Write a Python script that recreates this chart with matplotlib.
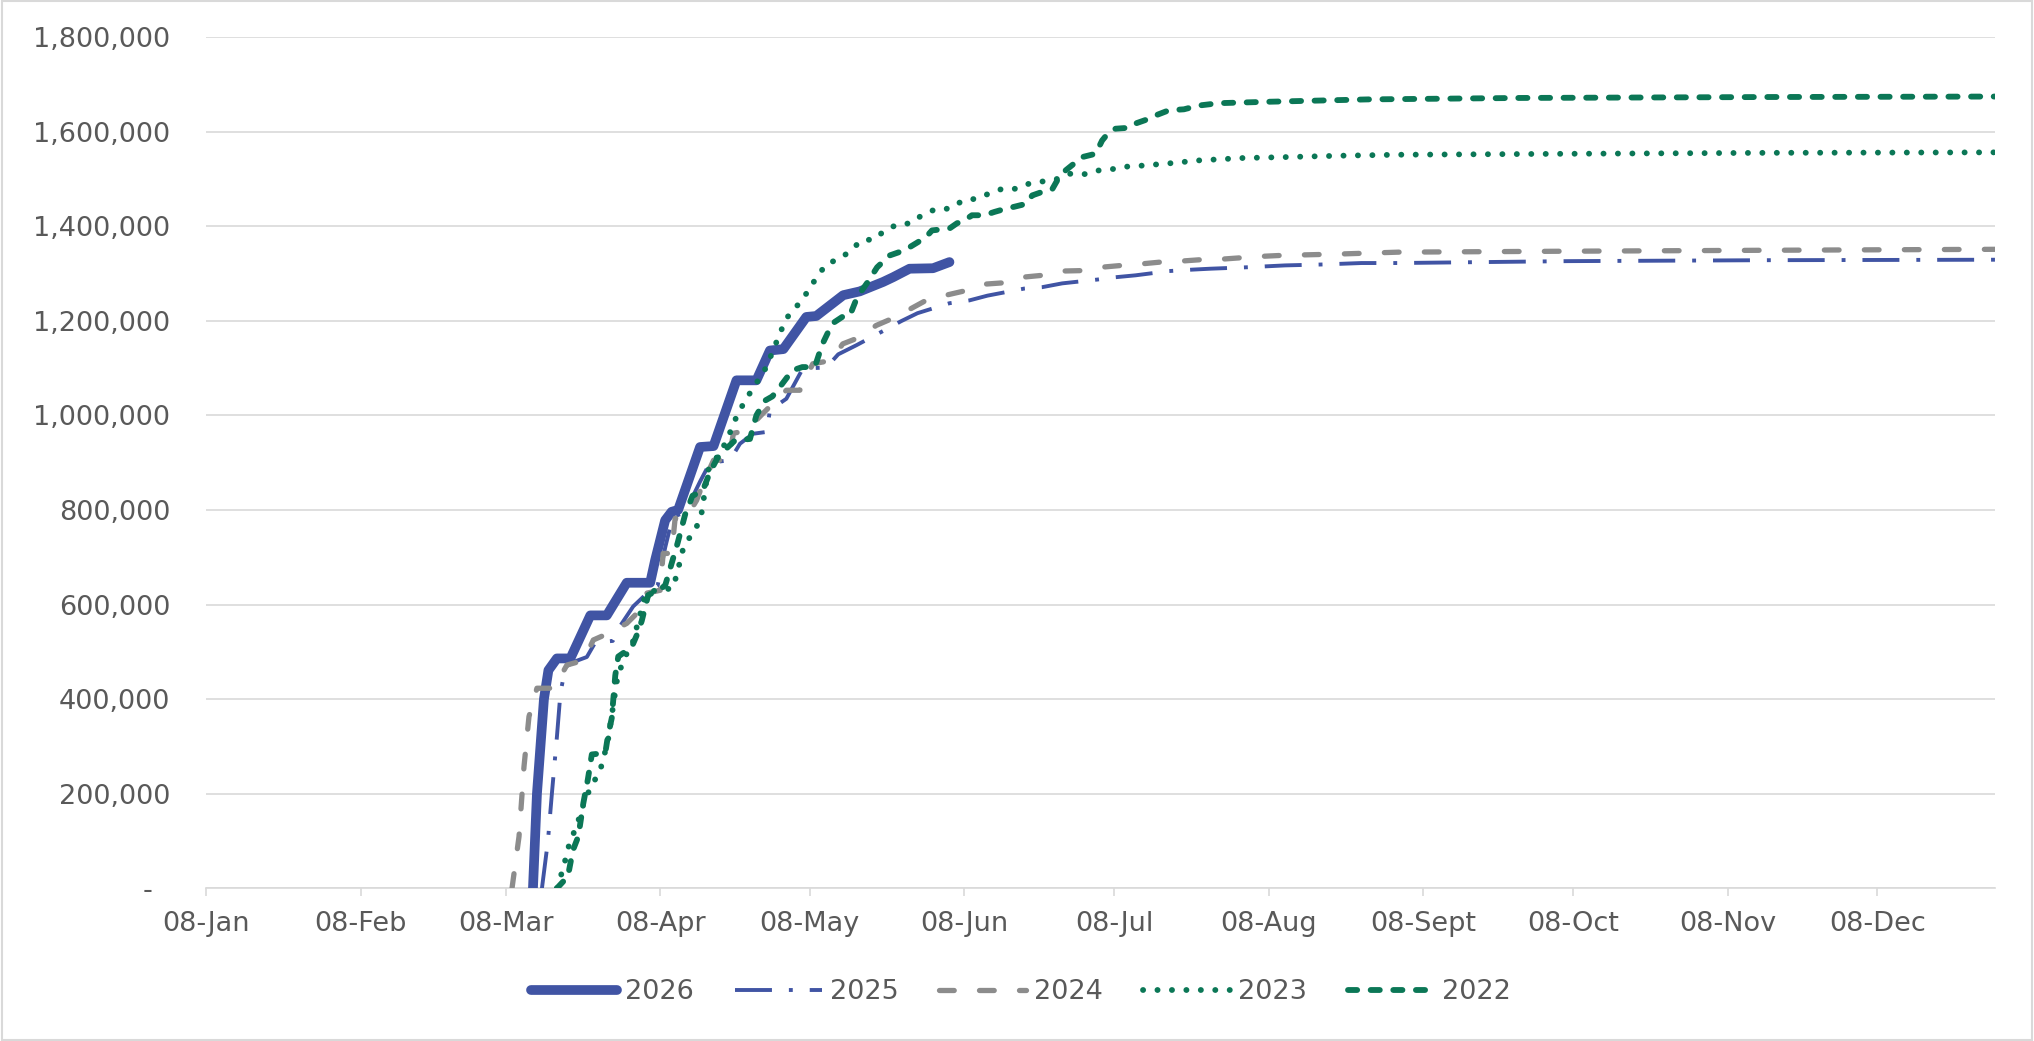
import matplotlib
matplotlib.use("Agg")
import matplotlib.pyplot as plt
from matplotlib.ticker import FuncFormatter, FixedLocator
from matplotlib.patches import Rectangle
import datetime as dt

plt.rcParams['font.family'] = ['DejaVu Sans']
plt.rcParams['lines.scale_dashes'] = False

# x = days since 1 Jan (leap-year calendar axis), values in thousands
days_2026 = [72.5, 73.3, 74.7, 75.6, 77.3, 80, 84, 87.3, 91.3, 96, 97, 99, 100.3, 101.6, 106, 108.7,
             113.3, 117.3, 120, 122.7, 127.3, 129.3, 134.7, 138, 142.7, 144.7, 148, 152.7, 156]
vals_2026 = [0, 200, 400, 461, 486, 486, 577, 577, 646, 646, 694, 778, 796, 800, 933, 935,
             1074, 1074, 1137, 1140, 1208, 1210, 1254, 1262, 1282, 1292, 1310, 1311, 1324]

days_2025 = [74.3, 75.5, 76.3, 77.3, 78, 79, 81, 83.3, 85, 88.5, 90, 92.6, 96, 97.5, 99, 100.5, 103,
             106, 108, 112, 114, 116.6, 119.4, 120, 123.3, 126.6, 131.3, 133.7, 137.3, 143, 146.3,
             149.6, 156, 160, 163.6, 171, 174.6, 178.6, 185.6, 189.3, 193.3, 200, 204.6, 208.3,
             215.6, 223.3, 231, 238.6, 246, 280, 320, 365.6]
vals_2025 = [0, 100, 201, 320, 412, 468, 480, 489, 520, 523, 555, 596, 630, 640, 720, 785, 795,
             860, 900, 905, 940, 961, 965, 1011, 1035, 1099, 1101, 1129, 1148, 1180, 1199,
             1216, 1237, 1243, 1253, 1268, 1271, 1279, 1287, 1292, 1296, 1305, 1308, 1310,
             1313, 1317, 1319, 1322, 1322, 1326, 1328, 1329]

days_2024 = [68.3, 69.7, 70.7, 71.7, 73.3, 76.7, 79.3, 82.7, 84.6, 87.6, 91.3, 93.3, 95.3, 98, 98.6,
             100.3, 101, 103.3, 105.3, 106.6, 108.7, 111.7, 112.7, 115.3, 118.6, 120.6, 123.3, 126,
             128.6, 132.3, 134.6, 138, 141.3, 144.6, 148, 151.3, 155.3, 159, 162.6, 166.6, 170.6,
             174.6, 178.3, 182.6, 186.3, 190.6, 194.3, 198.3, 202.3, 206.3, 210.3, 214.3, 218.3,
             222.3, 234, 246, 280, 320, 365.6]
vals_2024 = [0, 109, 257, 363, 423, 423, 472, 482, 525, 539, 560, 581, 624, 630, 708,
             708, 782, 785, 820, 856, 905, 905, 962, 968, 1004, 1025, 1053, 1053,
             1109, 1116, 1151, 1165, 1190, 1205, 1224, 1243, 1254, 1263, 1277, 1280, 1292,
             1296, 1305, 1306, 1313, 1317, 1320, 1324, 1326, 1329, 1330, 1333, 1336,
             1338, 1341, 1345, 1347, 1349, 1351]

days_2023 = [77.3, 78.5, 79.7, 81.5, 83, 84.7, 86, 87.5, 88.5, 89.5, 91, 92.5, 94, 95, 97, 100.5,
             101.3, 102.7, 105.3, 106.3, 107.6, 109, 111.3, 113, 115, 116.5, 119.3, 122, 123.3,
             126.7, 128, 129.7, 131.3, 134, 136.3, 138.3, 141, 143, 145.7, 148.3, 150.7, 153.3,
             156, 158.7, 161.3, 164, 166.6, 169.3, 172, 175, 177.7, 180.3, 183.3, 186, 189,
             191.7, 194.7, 200.3, 206, 214.7, 223.3, 234.7, 246, 280, 320, 365.6]
vals_2023 = [0, 40, 90, 140, 190, 225, 250, 310, 380, 450, 490, 520, 580, 620, 630, 634,
             662, 722, 764, 793, 884, 905, 945, 990, 1031, 1055, 1102, 1173, 1205,
             1247, 1270, 1296, 1320, 1331, 1349, 1370, 1372, 1391, 1404, 1406, 1425, 1436,
             1437, 1454, 1458, 1469, 1479, 1479, 1490, 1495, 1500, 1511, 1510, 1518, 1521,
             1526, 1528, 1533, 1539, 1544, 1546, 1549, 1551, 1553, 1555, 1556]

days_2022 = [77.3, 79.5, 80.5, 81.6, 82.6, 83.5, 84.3, 87, 87.5, 88.3, 89, 89.6, 92.3, 93.3, 94.3,
             95.6, 97.6, 99, 101.5, 103, 104.5, 106.5, 108, 109.5, 111.3, 113, 116, 117.3, 119,
             120.5, 122, 124.5, 126.5, 129, 130.5, 132.5, 134.5, 136, 137.5, 139.5, 141.5, 144,
             147, 149.5, 151.3, 152.5, 156, 157.5, 159, 160.5, 163, 165, 167.3, 169, 171.3,
             172.6, 175.3, 176.6, 178, 179.3, 181.3, 182.6, 185.3, 186.6, 188, 189.3, 192,
             193.3, 196, 197.3, 200, 203, 206, 210, 220, 240, 270, 320, 365.6]
vals_2022 = [0, 25, 80, 110, 180, 230, 283, 286, 320, 360, 450, 490, 510, 535, 565,
             620, 630, 640, 730, 790, 830, 840, 880, 910, 930, 947, 950, 1000, 1031,
             1040, 1060, 1095, 1102, 1102, 1150, 1194, 1208, 1210, 1250, 1280, 1313, 1338,
             1349, 1365, 1377, 1391, 1395, 1406, 1412, 1423, 1423, 1430, 1437, 1441, 1447,
             1465, 1475, 1478, 1504, 1518, 1535, 1546, 1553, 1581, 1599, 1606, 1608,
             1617, 1627, 1634, 1645, 1647, 1655, 1660, 1663, 1668, 1671, 1673, 1674]

series_labels = ['2026', '2025', '2024', '2023', '2022']
month_labels = ['08-Jan', '08-Feb', '08-Mar', '08-Apr', '08-May', '08-Jun',
                '08-Jul', '08-Aug', '08-Sept', '08-Oct', '08-Nov', '08-Dec']
y_ticks = [0, 200000, 400000, 600000, 800000, 1000000, 1200000, 1400000, 1600000, 1800000]

BLUE = '#4054A4'
GREY = '#8C8C8C'
GREEN = '#0B7756'
TXT = '#595959'
GRID = '#D9D9D9'

fig = plt.figure(figsize=(20.34, 10.41), dpi=100)
ax = fig.add_axes([0.1014, 0.1467, 0.9808 - 0.1014, 0.9645 - 0.1467])

def k(v):
    return [x * 1000 for x in v]

l26, = ax.plot(days_2026, k(vals_2026), color=BLUE, lw=7.0, solid_capstyle='round',
               solid_joinstyle='round', label=series_labels[0], zorder=3)
l25, = ax.plot(days_2025, k(vals_2025), color=BLUE, lw=2.8, label=series_labels[1], zorder=4,
               dash_capstyle='butt', linestyle=(0, (26.6, 12.2, 2.8, 12.2)))
l24, = ax.plot(days_2024, k(vals_2024), color=GREY, lw=3.8, label=series_labels[2], zorder=5,
               dash_capstyle='round', linestyle=(0, (10.6, 18.2)))
l23, = ax.plot(days_2023, k(vals_2023), color=GREEN, lw=4.2, label=series_labels[3], zorder=6,
               dash_capstyle='round', linestyle=(0, (0.1, 10.3)))
l22, = ax.plot(days_2022, k(vals_2022), color=GREEN, lw=4.2, label=series_labels[4], zorder=7,
               dash_capstyle='round', linestyle=(0, (6.6, 9.7)))

base = dt.date(2024, 1, 1)
xt = [(dt.date(2024, m, 8) - base).days for m in range(1, 13)]
ax.set_xlim(7, 365.6)
ax.set_ylim(0, 1800000)
ax.xaxis.set_major_locator(FixedLocator(xt))
ax.set_xticklabels(month_labels)
ax.set_yticks(y_ticks)

def yfmt(v, pos):
    if v == 0:
        return '-  '
    return f'{int(v):,}'
ax.yaxis.set_major_formatter(FuncFormatter(yfmt))

ax.grid(axis='y', color=GRID, lw=1.2)
ax.set_axisbelow(True)
for s in ['top', 'right', 'left']:
    ax.spines[s].set_visible(False)
ax.spines['bottom'].set_color(GRID)
ax.spines['bottom'].set_linewidth(1.2)
ax.tick_params(axis='x', colors=GRID, length=6, width=1.2, labelcolor=TXT, labelsize=19.5, pad=10)
ax.tick_params(axis='y', length=0, labelcolor=TXT, labelsize=19.5, pad=26)

fig.legend(handles=[l26, l25, l24, l23, l22], labels=series_labels, loc='center',
           bbox_to_anchor=(1021 / 2034, 1 - 992 / 1041), ncol=5, frameon=False,
           fontsize=19.5, handlelength=3.2, handletextpad=0.3, columnspacing=1.5,
           labelcolor=TXT)

fig.patches.append(Rectangle((0.001, 0.001), 0.998, 0.998, transform=fig.transFigure,
                             fill=False, edgecolor=GRID, lw=1.5))

fig.savefig('out.png', dpi=100, facecolor='white')
